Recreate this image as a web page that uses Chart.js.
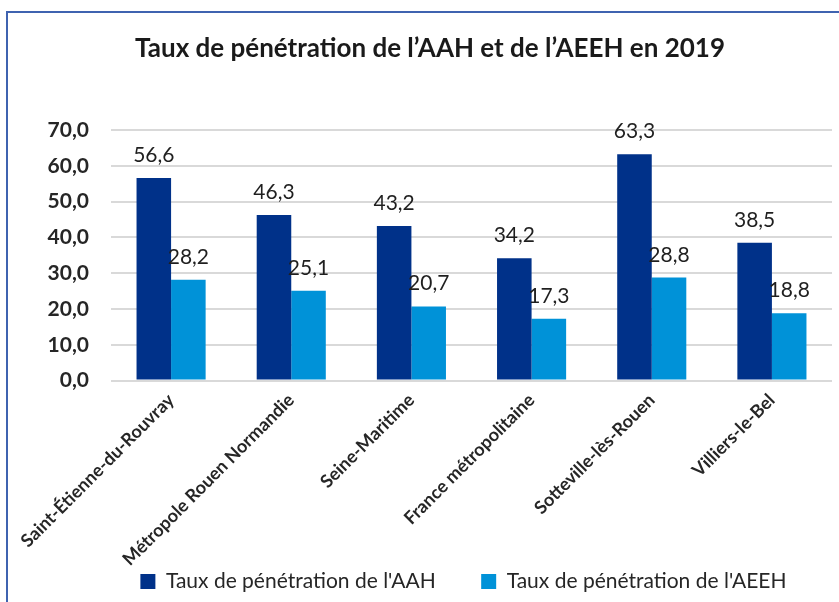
<!DOCTYPE html>
<html>
<head>
<meta charset="utf-8">
<script src="https://cdn.jsdelivr.net/npm/chart.js@4"></script>
<style>
html,body{margin:0;padding:0;background:#fff;}
#c{display:block;}
</style>
</head>
<body>
<canvas id="c" width="839" height="602"></canvas>
<script>
const categories = ["Saint-Étienne-du-Rouvray","Métropole Rouen Normandie","Seine-Maritime","France métropolitaine","Sotteville-lès-Rouen","Villiers-le-Bel"];
const aahValues = [56.6, 46.3, 43.2, 34.2, 63.3, 38.5];
const aeehValues = [28.2, 25.1, 20.7, 17.3, 28.8, 18.8];
const seriesNames = ["Taux de pénétration de l'AAH","Taux de pénétration de l'AEEH"];
const titleText = "Taux de pénétration de l\u2019AAH et de l\u2019AEEH en 2019";

const fmt = v => v.toFixed(1).replace('.', ',');

const frame = {
  id: 'frame',
  beforeDraw(chart) {
    const ctx = chart.ctx;
    ctx.save();
    ctx.fillStyle = '#fff';
    ctx.fillRect(0, 0, chart.width, chart.height);
    ctx.strokeStyle = '#3F63B0';
    ctx.lineWidth = 2;
    ctx.beginPath();
    ctx.moveTo(7, chart.height);
    ctx.lineTo(7, 12);
    ctx.lineTo(chart.width, 12);
    ctx.stroke();
    ctx.restore();
  }
};

const valueLabels = {
  id: 'valueLabels',
  afterDatasetsDraw(chart) {
    const ctx = chart.ctx;
    ctx.save();
    ctx.font = '21px Lato';
    ctx.fillStyle = '#1f1f1f';
    ctx.textAlign = 'center';
    ctx.textBaseline = 'alphabetic';
    chart.data.datasets.forEach((ds, i) => {
      const meta = chart.getDatasetMeta(i);
      meta.data.forEach((bar, j) => {
        ctx.fillText(fmt(ds.data[j]), bar.x, bar.y - 16);
      });
    });
    ctx.restore();
  }
};

new Chart(document.getElementById('c'), {
  type: 'bar',
  data: {
    labels: categories,
    datasets: [
      { label: seriesNames[0], data: aahValues, backgroundColor: '#003189' },
      { label: seriesNames[1], data: aeehValues, backgroundColor: '#0092D8' }
    ]
  },
  options: {
    responsive: false,
    animation: false,
    devicePixelRatio: 1,
    layout: { padding: { left: 28, right: 7, top: 0, bottom: 0 } },
    datasets: { bar: { categoryPercentage: 0.575, barPercentage: 1.0 } },
    plugins: {
      title: {
        display: true,
        text: titleText,
        color: '#1a1a1a',
        font: { family: 'Lato', size: 26, weight: 'bold' },
        padding: { top: 33, bottom: 66 }
      },
      legend: {
        position: 'bottom',
        align: 'end',
        labels: {
          boxWidth: 15, boxHeight: 15,
          padding: 45.5,
          color: '#262626',
          font: { family: 'Lato', size: 21 }
        }
      },
      tooltip: { enabled: false }
    },
    scales: {
      x: {
        grid: { display: false, drawTicks: false },
        border: { display: false },
        ticks: {
          autoSkip: false, maxRotation: 45, minRotation: 45, padding: 9,
          color: '#262626',
          font: { family: 'Lato', size: 18, weight: 'bold' }
        },
        afterFit(scale) {
          scale.height = 145;
          scale._computeLabelArea = () => undefined;
        }
      },
      y: {
        min: 0, max: 70,
        ticks: {
          stepSize: 10, padding: 22,
          color: '#262626',
          font: { family: 'Lato', size: 21, weight: 'bold' },
          callback: v => fmt(v)
        },
        grid: { color: '#D9D9D9', lineWidth: 2, drawTicks: false },
        border: { display: false },
        afterFit(scale) { scale.width = 83; }
      }
    }
  },
  plugins: [frame, valueLabels]
});
</script>
</body>
</html>
